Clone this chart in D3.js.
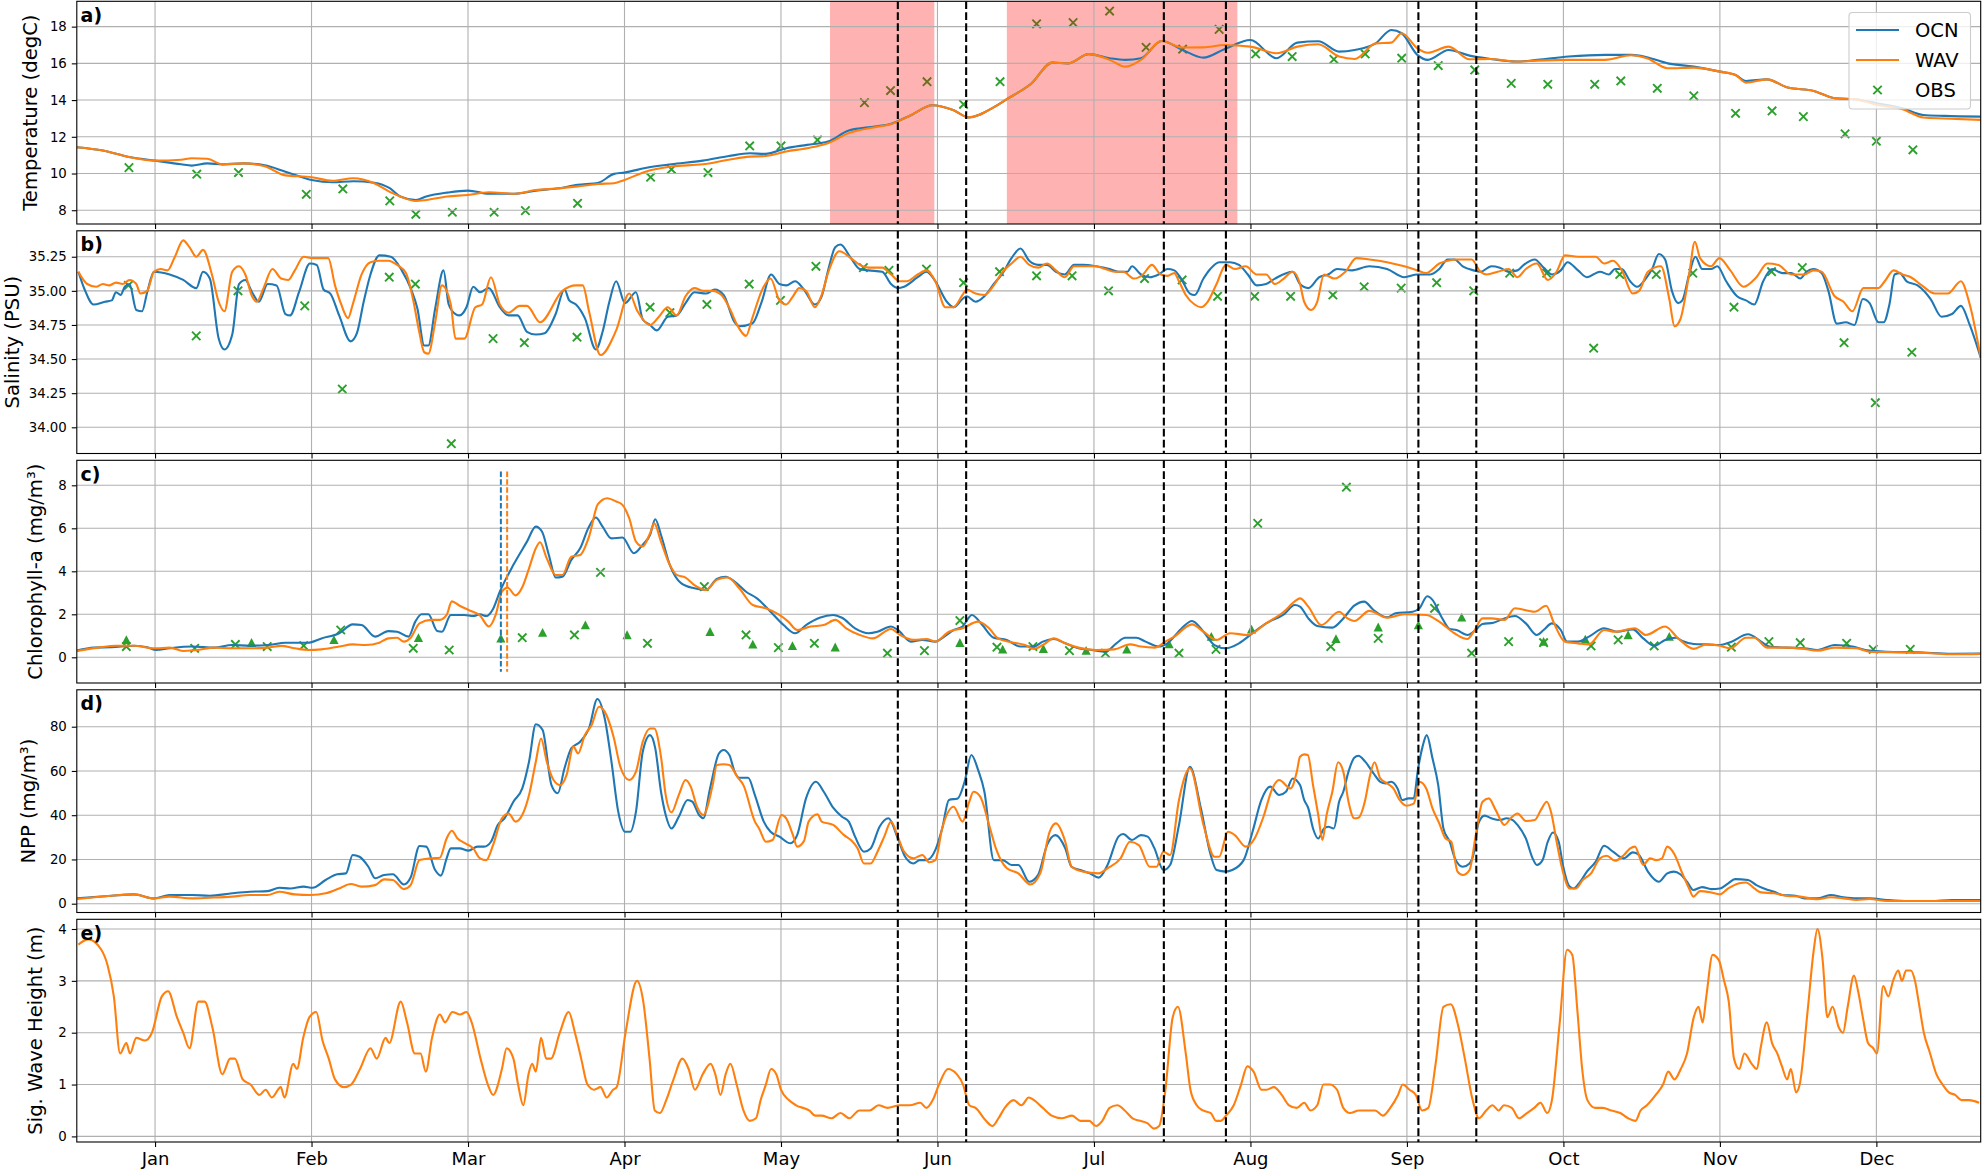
<!DOCTYPE html>
<html>
<head>
<meta charset="utf-8">
<script src="https://cdn.jsdelivr.net/npm/d3@7"></script>
<style>
  body { margin: 0; background: #fff; }
  text { font-family: "DejaVu Sans", sans-serif; }
</style>
</head>
<body>
<svg id="chart" width="1982" height="1171"></svg>
<script>
// ---- data (x = day of year, y = value) ----
var months = ["Jan","Feb","Mar","Apr","May","Jun","Jul","Aug","Sep","Oct","Nov","Dec"];
var monthDays = [15,45,75,105,135,165,195,225,255,285,315,345];
var eventDays = [157.4,170.5,208.4,220.3,257.2,268.3];
var heatSpans = [[144.4,164.4],[178.3,222.5]];
var bloomOCN = 81.3, bloomWAV = 82.5;

var tempOCN = [[0,11.43],[5,11.25],[10,10.9],[15,10.7],[20,10.5],[22,10.43],[25,10.55],[28,10.5],[32,10.55],[36,10.45],[40,10.1],[45,9.65],[49,9.52],[53,9.58],[57,9.5],[60,9.2],[62,8.75],[65,8.56],[67,8.75],[71,8.96],[75,9.07],[79,8.9],[84,8.9],[88,9.07],[92,9.18],[96,9.38],[100,9.5],[103,9.98],[105,10.05],[109,10.3],[114,10.5],[120,10.7],[125,10.95],[129,11.1],[132,11.07],[136,11.38],[140,11.56],[144,11.74],[148,12.34],[153,12.56],[156,12.7],[160,13.19],[164,13.72],[168,13.46],[171,13.06],[176,13.64],[178,14.0],[183,14.9],[187,16.04],[190,16.0],[194,16.5],[198,16.28],[201,16.19],[204,16.28],[208,17.22],[212,16.73],[216,16.31],[220,16.77],[225,17.27],[230,16.28],[234,17.13],[238,17.2],[242,16.64],[245,16.73],[249,17.09],[252,17.82],[254,17.64],[257,16.46],[259,16.19],[263,16.73],[267,16.42],[271,16.24],[276,16.1],[280,16.19],[286,16.37],[293,16.46],[298,16.46],[301,16.33],[305,16.0],[310,15.82],[315,15.55],[318,15.37],[320,15.04],[324,15.13],[328,14.68],[333,14.5],[337,14.1],[341,14.04],[345,13.83],[350,13.55],[354,13.19],[358,13.14],[365,13.1]];
var tempWAV = [[0,11.43],[5,11.25],[10,10.9],[15,10.7],[20,10.75],[22,10.83],[25,10.8],[28,10.5],[32,10.55],[36,10.4],[40,9.9],[45,9.8],[49,9.6],[53,9.74],[57,9.47],[60,9.0],[62,8.75],[65,8.5],[67,8.56],[71,8.75],[75,8.83],[79,8.98],[84,8.9],[88,9.1],[92,9.18],[96,9.3],[100,9.43],[103,9.47],[105,9.65],[109,10.1],[114,10.38],[120,10.5],[125,10.75],[129,10.92],[132,10.95],[136,11.2],[140,11.38],[144,11.65],[148,12.2],[153,12.52],[156,12.68],[160,13.19],[164,13.72],[168,13.46],[171,13.06],[176,13.64],[178,14.0],[183,14.9],[187,16.04],[190,16.0],[194,16.5],[198,16.19],[201,15.82],[204,16.19],[208,17.22],[212,16.86],[216,16.87],[220,17.0],[225,16.91],[230,16.55],[234,16.91],[238,17.04],[242,16.37],[245,16.24],[249,17.09],[252,17.13],[254,17.64],[257,16.82],[259,16.58],[263,16.91],[267,16.22],[271,16.24],[276,16.1],[280,16.15],[286,16.19],[293,16.19],[298,16.44],[301,16.28],[305,15.73],[310,15.77],[315,15.55],[318,15.37],[320,14.95],[324,15.13],[328,14.68],[333,14.5],[337,14.1],[341,14.04],[345,13.75],[350,13.5],[354,13.05],[358,13.0],[365,12.92]];
var tempOBS = [[10,10.32],[23,9.96],[31,10.05],[44,8.87],[51,9.16],[60,8.51],[65,7.78],[72,7.89],[80,7.89],[86,7.98],[96,8.38],[110,9.8],[114,10.23],[121,10.05],[129,11.5],[135,11.5],[142,11.83],[151,13.86],[156,14.52],[163,15.0],[170,13.77],[177,15.0],[184,18.15],[191,18.22],[198,18.85],[205,16.87],[212,16.77],[219,17.85],[226,16.51],[233,16.37],[241,16.22],[247,16.51],[254,16.28],[261,15.88],[268,15.64],[275,14.91],[282,14.86],[291,14.86],[296,15.04],[303,14.64],[310,14.23],[318,13.28],[325,13.41],[331,13.1],[339,12.16],[345,11.76],[352,11.29]];

var salOCN = [[0.3,35.14],[1.5,35.01],[3.2,34.90],[5.4,34.92],[6.7,34.93],[7.5,34.99],[8.4,34.97],[9.2,35.03],[10.1,35.05],[11.4,34.86],[12.5,34.85],[13.5,34.99],[14.8,35.14],[17.8,35.12],[20.4,35.08],[22.9,35.02],[24.2,35.14],[25.5,35.09],[27.2,34.65],[28.3,34.57],[29.8,34.68],[31.1,35.05],[32.3,35.08],[33.6,34.99],[34.9,34.92],[36.6,35.05],[38.3,35.04],[40.0,34.83],[40.9,34.82],[42.6,34.99],[44.7,35.20],[46.0,35.19],[47.3,35.01],[48.6,34.98],[50.3,34.82],[52.5,34.63],[53.7,34.69],[55.0,34.92],[56.3,35.12],[58.0,35.26],[60.2,35.25],[62.3,35.15],[64.0,35.02],[65.3,34.87],[66.6,34.60],[67.4,34.60],[68.7,34.87],[70.3,35.15],[71.3,34.90],[72.6,34.83],[73.4,34.82],[74.7,34.88],[76.0,35.03],[77.3,34.99],[79.0,35.02],[81.1,34.88],[82.8,34.82],[84.5,34.82],[86.3,34.70],[88.0,34.68],[89.7,34.69],[91.8,34.83],[93.5,35.01],[94.4,34.93],[95.7,34.90],[97.4,34.80],[99.5,34.57],[100.8,34.70],[102.1,34.92],[103.4,35.07],[105.1,34.91],[107.2,34.99],[108.5,34.79],
  [109.9,34.75],[111.2,34.71],[113.3,34.81],[115.0,34.82],[116.7,34.91],[118.4,34.99],[120.6,34.98],[122.3,35.01],[124.0,34.97],[126.1,34.77],[127.0,34.74],[129.5,34.76],[131.3,34.92],[133.1,35.12],[134.7,35.05],[136.0,35.04],[137.7,35.07],[139.4,35.01],[141.5,34.90],[142.8,34.96],[144.1,35.16],[145.4,35.32],[146.4,35.34],[148.4,35.24],[150.1,35.16],[151.8,35.15],[154.4,35.14],[156.1,35.05],[157.4,35.02],[158.6,35.03],[161.2,35.10],[162.9,35.14],[164.6,35.07],[166.8,34.92],[168.1,34.88],[169.8,34.94],[170.6,34.96],[172.3,34.92],[174.0,34.96],[175.8,35.05],[177.5,35.13],[179.2,35.24],[180.9,35.31],[182.6,35.22],[184.3,35.19],[186.0,35.19],[187.7,35.14],[189.4,35.12],[191.2,35.19],[192.9,35.19],[195.4,35.18],[198.0,35.16],[199.7,35.14],[201.4,35.14],[202.3,35.18],[204.0,35.12],[205.7,35.10],[207.4,35.12],[209.1,35.16],[210.4,35.15],[211.7,35.09],[213.4,34.98],[214.3,34.97],[216.0,35.09],[217.3,35.16],[219.0,35.21],[221.1,35.21],[222.8,35.19],[224.5,35.12],[226.2,35.04],[228.0,35.05],[229.7,35.09],[233.1,35.14],
  [234.5,35.05],[236.1,35.02],[238.2,35.10],[239.9,35.12],[241.6,35.16],[244.5,35.15],[247.8,35.18],[251.2,35.16],[254.5,35.10],[257.0,35.12],[259.5,35.12],[261.2,35.16],[262.8,35.23],[264.1,35.23],[265.7,35.18],[267.8,35.15],[269.1,35.14],[271.2,35.18],[272.8,35.17],[274.5,35.14],[276.2,35.15],[277.4,35.19],[279.5,35.23],[281.2,35.17],[282.8,35.12],[284.5,35.15],[285.8,35.21],[287.8,35.15],[289.5,35.10],[292.0,35.14],[293.7,35.12],[294.9,35.16],[296.2,35.16],[297.8,35.07],[299.1,35.03],[300.8,35.09],[302.0,35.16],[303.3,35.27],[304.5,35.23],[305.8,35.0],[307.0,34.91],[307.8,34.93],[309.1,35.12],[310.3,35.25],[311.6,35.16],[313.3,35.16],[314.5,35.18],[316.2,35.07],[318.3,34.96],[320.0,34.93],[321.6,34.90],[323.3,35.07],[325.0,35.16],[327.0,35.13],[328.7,35.13],[330.4,35.09],[331.6,35.14],[332.9,35.16],[334.5,35.13],[335.8,35.0],[337.4,34.76],[339.1,34.77],[340.8,34.75],[342.4,34.94],[343.7,34.91],[345.4,34.77],[346.4,34.77],[347.5,34.90],[348.5,35.12],[349.5,35.13],[350.8,35.07],[352.9,35.04],[355.4,34.94],[357.5,34.81],[359.5,34.83],[361.2,34.89],[362.9,34.75],[365,34.51]];
var salWAV = [[0.3,35.14],[2.0,35.05],[3.7,35.03],[5.0,35.05],[6.2,35.04],[7.5,35.06],[8.8,35.05],[10.1,35.08],[11.4,35.05],[12.2,34.98],[13.5,35.00],[14.8,35.14],[16.1,35.16],[17.4,35.15],[18.7,35.24],[20.4,35.37],[21.6,35.32],[22.9,35.25],[24.2,35.30],[25.9,35.12],[27.2,34.92],[28.3,34.85],[29.8,35.14],[31.1,35.18],[32.3,35.12],[33.6,34.96],[34.5,34.92],[35.8,35.02],[37.5,35.16],[39.2,35.09],[40.5,35.08],[41.8,35.15],[43.5,35.25],[45.2,35.24],[46.9,35.24],[48.2,35.24],[49.5,35.04],[50.7,34.90],[52.0,34.80],[52.9,34.90],[54.6,35.12],[56.3,35.21],[58.0,35.22],[59.7,35.22],[61.4,35.19],[63.1,35.13],[64.4,34.95],[65.7,34.69],[66.6,34.55],[67.4,34.54],[68.7,34.77],[70.0,35.04],[71.7,34.90],[72.6,34.65],[74.3,34.65],[76.4,34.88],[77.7,34.90],[79.4,35.10],[81.1,34.90],[82.8,34.84],[84.9,34.89],[86.3,34.89],[88.8,34.77],[93.1,35.00],[95.7,35.04],[97.0,35.04],[98.2,34.85],[100.4,34.53],[103.4,34.71],[105.9,34.98],[107.5,34.85],
  [109.9,34.75],[111.6,34.81],[113.3,34.88],[115.0,34.82],[116.7,34.96],[118.4,35.02],[120.1,35.0],[121.9,35.0],[123.6,34.97],[125.3,34.86],[126.6,34.75],[128.3,34.67],[129.5,34.80],[131.3,35.0],[133.0,35.09],[134.7,34.93],[136.0,34.90],[137.3,34.96],[138.5,35.02],[139.8,35.0],[141.5,34.88],[142.8,34.97],[144.1,35.14],[146.2,35.29],[148.4,35.24],[150.1,35.19],[151.8,35.17],[154.4,35.17],[156.1,35.12],[157.8,35.07],[159.1,35.07],[161.2,35.12],[162.9,35.15],[164.6,35.07],[166.5,34.88],[168.1,34.88],[169.8,34.97],[170.6,35.01],[172.3,34.98],[174.0,34.97],[175.8,35.04],[177.5,35.14],[179.2,35.20],[180.9,35.25],[182.6,35.19],[184.3,35.17],[186.0,35.20],[187.7,35.15],[189.4,35.10],[191.2,35.18],[193.7,35.18],[195.4,35.18],[197.2,35.16],[198.9,35.14],[200.6,35.14],[202.7,35.09],[204.4,35.12],[206.1,35.19],[207.8,35.12],[209.1,35.11],[210.4,35.13],[211.3,35.07],[212.6,34.97],[214.3,34.90],[215.5,34.88],[216.8,34.92],[218.5,35.05],[220.3,35.19],[222.0,35.16],[224.1,35.18],[226.2,35.12],[228.0,35.12],[229.7,35.05],[231.4,35.09],[233.1,35.14],
  [234.5,35.05],[235.3,34.92],[236.6,34.86],[237.8,34.92],[239.1,35.12],[241.1,35.09],[243.2,35.14],[245.3,35.24],[247.8,35.23],[251.2,35.21],[254.5,35.18],[257.0,35.15],[258.7,35.13],[261.2,35.20],[262.8,35.22],[264.5,35.23],[267.4,35.23],[269.1,35.14],[270.3,35.12],[272.4,35.14],[274.5,35.16],[276.2,35.10],[277.8,35.16],[279.9,35.20],[282.0,35.08],[283.7,35.14],[285.3,35.26],[287.8,35.25],[291.2,35.25],[292.8,35.20],[294.5,35.22],[296.2,35.15],[298.3,34.98],[299.5,35.0],[301.2,35.14],[303.7,35.18],[305.3,34.94],[306.3,34.74],[307.4,34.79],[309.1,35.12],[310.2,35.36],[311.2,35.24],[313.3,35.18],[314.9,35.24],[317.0,35.15],[319.5,35.03],[322.0,35.10],[324.1,35.20],[326.2,35.19],[328.7,35.12],[331.2,35.12],[332.9,35.15],[334.5,35.14],[337.0,34.96],[338.7,34.92],[340.4,34.85],[342.5,35.02],[343.7,35.02],[345.4,35.02],[346.6,35.07],[348.3,35.15],[350.0,35.12],[351.6,35.10],[353.7,35.04],[356.2,34.98],[358.7,34.98],[361.2,35.07],[362.9,34.90],[365,34.51]];
var salOBS = [[9.9,35.04],[22.9,34.67],[30.9,35.0],[43.7,34.89],[50.9,34.28],[59.9,35.10],[64.9,35.05],[71.8,33.88],[79.8,34.65],[85.8,34.62],[95.9,34.66],[109.9,34.88],[113.7,34.84],[120.8,34.90],[128.9,35.05],[134.9,34.93],[141.7,35.18],[150.8,35.17],[155.7,35.15],[162.9,35.16],[170,35.06],[176.9,35.14],[184,35.11],[190.8,35.11],[197.8,35.0],[204.7,35.09],[211.9,35.08],[218.7,34.96],[225.8,34.96],[232.7,34.96],[240.8,34.97],[246.8,35.03],[253.9,35.02],[260.7,35.06],[267.8,35.0],[274.7,35.13],[281.8,35.13],[290.8,34.58],[295.8,35.12],[302.8,35.12],[309.8,35.13],[317.7,34.88],[324.9,35.14],[330.8,35.17],[338.8,34.62],[344.8,34.18],[351.8,34.55]];

var chlOCN = [[0,0.31],[3.3,0.45],[6.7,0.47],[11.0,0.54],[13.5,0.47],[15.2,0.34],[17.8,0.42],[22.1,0.5],[26.4,0.45],[29.8,0.57],[33.2,0.54],[36.6,0.57],[40.0,0.68],[44.3,0.68],[46.9,0.88],[50.3,1.12],[52.9,1.53],[54.6,1.50],[57.2,0.96],[59.7,1.22],[61.4,1.19],[63.6,0.96],[64.9,1.66],[66.1,2.0],[67.4,2.0],[69.1,1.22],[70.0,1.19],[71.7,1.97],[74.3,1.97],[76.0,1.92],[77.3,2.0],[78.5,1.92],[79.8,2.25],[81.1,3.05],[83.7,4.3],[86.3,5.38],[88.0,6.08],[89.2,5.84],[90.5,4.76],[91.8,3.71],[93.1,3.75],[94.8,4.53],[96.5,5.07],[98.1,6.03],[99.5,6.5],[100.8,6.08],[102.5,5.53],[104.6,5.57],[106.8,4.84],[108.5,5.24],
  [109.9,5.69],[110.9,6.42],[112.0,5.69],[113.7,4.29],[115.9,3.44],[118.4,3.21],[120.6,3.13],[122.7,3.64],[124.4,3.75],[126.1,3.52],[128.3,3.05],[130.4,2.74],[133.0,2.12],[135.5,1.50],[137.7,1.12],[139.8,1.50],[142.4,1.84],[145.0,1.97],[146.7,1.84],[149.2,1.35],[151.8,1.12],[153.5,1.19],[156.1,1.43],[157.4,1.27],[159.9,0.73],[162.1,0.81],[164.6,0.73],[166.3,0.96],[168.1,1.27],[169.8,1.43],[171.6,1.97],[173.6,1.50],[175.8,0.91],[178.3,0.81],[180.9,0.50],[183.5,0.50],[185.2,0.73],[187.3,0.85],[189.5,0.65],[192.0,0.42],[194.6,0.34],[197.2,0.26],[199.3,0.65],[201.0,0.91],[203.1,0.91],[204.9,0.73],[207.4,0.50],[209.1,0.65],[211.7,1.32],[213.8,1.69],[216.0,1.19],[218.1,0.57],[220.3,0.42],[222.8,0.65],[225.4,1.12],[228.0,1.58],[231.4,2.0],[233.5,2.43],
  [234.5,2.36],[236.1,1.81],[237.8,1.46],[240.7,1.38],[242.8,1.81],[244.9,2.40],[246.8,2.59],[248.6,2.20],[251.2,1.86],[252.8,2.05],[256.1,2.12],[257.4,2.28],[258.9,2.84],[259.9,2.67],[261.6,1.89],[263.2,1.32],[264.5,1.27],[266.6,1.04],[267.8,1.19],[269.5,1.55],[271.6,1.61],[273.7,1.81],[275.7,1.92],[277.8,1.58],[279.9,1.04],[281.2,1.27],[282.8,1.58],[284.5,1.27],[285.7,0.73],[287.8,0.73],[289.9,0.96],[292.8,1.35],[295.3,1.19],[298.3,1.30],[300.3,0.88],[302.4,0.53],[304.5,0.81],[306.6,0.91],[307.8,0.76],[310.0,0.62],[312.4,0.60],[315.0,0.57],[317.0,0.70],[320.4,1.07],[322.9,0.73],[324.5,0.50],[327.9,0.45],[331.2,0.42],[333.7,0.34],[337.0,0.57],[340.4,0.50],[342.9,0.34],[347.0,0.26],[352.9,0.23],[359.5,0.16],[365,0.17]];
var chlWAV = [[0,0.29],[4.1,0.45],[7.5,0.54],[11.0,0.54],[13.5,0.45],[15.2,0.42],[17.8,0.45],[20.4,0.29],[22.9,0.34],[26.4,0.45],[29.8,0.42],[33.2,0.42],[36.6,0.45],[39.2,0.53],[41.8,0.42],[44.3,0.34],[46.9,0.37],[50.3,0.5],[52.9,0.60],[55.4,0.57],[58.0,0.68],[59.7,0.88],[61.4,0.91],[62.7,0.73],[64.0,0.91],[65.7,1.58],[67.9,1.74],[69.6,1.74],[70.9,1.97],[71.9,2.6],[73.4,2.4],[75.1,2.2],[77.3,1.94],[79.0,1.43],[80.3,1.97],[81.5,3.05],[82.6,3.24],[84.1,2.88],[85.4,3.26],[86.7,4.14],[88.0,5.07],[88.8,5.35],[90.1,4.6],[91.8,3.83],[93.1,3.83],[94.8,4.68],[96.5,4.76],[98.2,5.61],[99.9,7.12],[101.7,7.40],[103.4,7.25],[104.6,7.09],[105.9,6.47],[107.2,5.38],[108.5,5.16],
  [109.9,5.77],[110.7,6.23],[112.0,5.38],[113.7,4.29],[115.0,3.83],[116.7,3.71],[118.4,3.36],[120.6,3.13],[122.7,3.60],[124.8,3.71],[127.0,3.21],[129.6,2.43],[132.1,2.28],[134.7,1.97],[136.4,1.66],[138.1,1.27],[140.7,1.43],[143.2,1.50],[145.4,1.74],[147.5,1.35],[150.1,1.04],[152.6,0.88],[156.1,1.32],[157.8,1.04],[160.4,0.81],[162.9,0.85],[164.6,0.73],[167.2,1.19],[169.8,1.35],[172.8,1.66],[174.9,1.35],[176.6,0.88],[179.2,0.70],[181.8,0.57],[183.5,0.39],[185.2,0.57],[187.3,0.88],[189.5,0.65],[192.0,0.45],[195.4,0.34],[198.9,0.37],[201.9,0.60],[204.0,0.50],[206.6,0.45],[208.7,0.73],[210.4,0.96],[213.8,1.53],[216.0,1.19],[218.5,0.81],[221.1,1.12],[224.5,1.04],[228.0,1.58],[231.4,2.12],[233.5,2.60],
  [234.5,2.74],[236.1,2.36],[238.6,1.50],[242.0,2.12],[243.6,1.81],[244.9,1.69],[247.8,2.16],[251.2,1.84],[254.5,2.0],[258.7,1.97],[261.2,1.66],[264.1,1.12],[266.6,0.85],[267.8,1.19],[269.5,1.81],[271.2,1.81],[273.7,1.74],[275.7,2.28],[279.5,2.12],[281.7,2.40],[283.2,1.58],[285.3,0.73],[287.8,0.65],[289.9,0.60],[292.8,1.27],[294.9,1.19],[298.7,1.35],[300.8,1.04],[304.5,1.43],[307.0,0.88],[310.0,0.39],[312.4,0.60],[315.0,0.54],[317.0,0.42],[320.0,0.91],[321.6,0.91],[324.1,0.45],[327.9,0.45],[331.2,0.39],[333.7,0.31],[337.0,0.45],[341.2,0.42],[343.7,0.26],[349.5,0.23],[355.4,0.19],[359.5,0.14],[365,0.16]];
var chlOBS = [[9.5,0.5],[22.6,0.42],[30.4,0.6],[36.5,0.5],[43.5,0.54],[50.6,1.27],[64.5,0.42],[71.4,0.34],[85.4,0.91],[95.4,1.04],[100.4,3.95],[109.4,0.65],[120.3,3.29],[128.3,1.04],[134.5,0.45],[141.4,0.65],[155.4,0.19],[162.5,0.31],[169.3,1.71],[176.4,0.47],[183.3,0.5],[190.3,0.31],[197.2,0.19],[211.3,0.19],[218.4,0.37],[226.4,6.23],[240.4,0.5],[243.4,7.91],[249.5,0.88],[260.3,2.28],[267.4,0.19],[274.5,0.73],[281.2,0.68],[290.3,0.53],[295.5,0.81],[302.4,0.53],[317.2,0.47],[324.4,0.73],[330.4,0.68],[339.3,0.65],[344.4,0.37],[351.5,0.37]];
var chlOBS2 = [[9.5,0.81],[33.5,0.68],[49.3,0.81],[65.5,0.91],[81.3,0.88],[89.3,1.15],[97.5,1.5],[105.5,1.04],[121.4,1.19],[129.6,0.6],[137.2,0.53],[145.4,0.47],[169.3,0.68],[177.5,0.37],[185.3,0.4],[193.5,0.31],[201.3,0.37],[209.4,0.62],[217.5,0.96],[225.2,1.3],[241.4,0.86],[249.5,1.4],[257.2,1.5],[265.5,1.86],[281.2,0.73],[289.2,0.84],[297.4,1.04],[305.3,0.96]];

var nppOCN = [[0,2.4],[6.7,3.6],[11.0,4.2],[14.8,2.4],[17.8,3.9],[22.1,3.9],[25.5,3.6],[29.8,4.7],[33.2,5.4],[36.6,5.7],[38.8,7.2],[40.9,6.9],[43.5,7.7],[45.2,7.2],[47.7,10.7],[49.9,13.3],[51.6,13.7],[52.9,22.0],[54.2,21.2],[55.9,16.7],[57.2,11.5],[58.9,13.0],[60.6,13.3],[62.7,8.7],[64.0,11.8],[65.7,26.1],[67.0,25.8],[68.7,15.2],[69.8,12.7],[70.9,20.5],[71.7,25.0],[73.4,25.0],[75.1,24.0],[76.8,25.8],[78.1,25.8],[79.4,28.0],[80.7,35.6],[82.0,38.6],[83.7,46.1],[85.4,52.1],[86.7,64.2],[88.0,81.1],[89.3,78.5],[91.0,53.6],[92.2,49.9],[93.5,61.2],[94.8,70.2],[96.5,73.2],[98.2,79.2],[99.8,92.5],[101.2,83.8],[102.5,64.2],[103.8,41.6],[105.1,32.5],[106.1,32.5],[107.2,41.6],[108.5,68.7],
  [109.9,76.2],[110.9,70.2],[112.0,50.6],[112.9,40.1],[114.0,34.0],[115.4,39.3],[117.1,46.9],[118.0,46.1],[119.3,40.1],[120.1,38.6],[121.4,52.1],[123.1,67.9],[124.0,69.5],[125.1,67.2],[126.1,59.7],[127.0,56.9],[128.7,56.9],[130.0,49.1],[131.7,37.1],[133.0,32.5],[134.7,30.3],[136.8,27.3],[138.1,31.0],[139.8,47.6],[141.7,55.1],[143.2,50.6],[145.0,43.4],[146.7,39.3],[148.0,37.1],[149.2,30.3],[150.9,23.5],[152.2,25.0],[153.9,34.8],[155.6,38.6],[157.4,29.5],[158.8,21.2],[160.4,18.2],[161.6,19.7],[162.9,19.7],[164.6,24.3],[165.9,34.0],[167.2,46.9],[168.9,47.6],[170.2,55.1],[171.5,67.2],[172.8,60.4],[174.0,50.6],[175.8,19.7],[177.5,19.7],[179.2,17.5],[180.5,17.5],[182.6,9.9],[184.3,13.0],[186.0,26.5],[187.6,31.0],[189.5,25.0],[190.7,16.7],[192.4,15.2],[194.2,13.7],[195.9,11.8],[197.6,17.5],[199.7,30.3],[200.6,31.5],[202.3,28.8],[204.0,31.0],[205.3,30.3],[206.6,25.0],[208.3,15.2],[209.6,17.5],[211.3,35.6],[213.4,61.9],[215.5,43.1],[217.3,22.7],[218.5,15.2],[220.3,14.5],[221.5,15.2],[223.7,19.7],[225.4,32.5],[227.1,46.9],[228.8,52.9],[230.5,49.1],[231.8,50.6],[233.1,56.6],
  [234.5,53.6],[235.3,46.9],[236.1,43.1],[237.0,34.0],[238.0,29.5],[239.1,34.0],[239.9,34.8],[241.0,34.0],[242.0,46.1],[242.8,50.6],[243.8,59.7],[244.9,66.0],[245.7,66.9],[247.0,64.2],[248.6,58.9],[249.9,55.1],[250.9,54.4],[252.0,55.1],[253.2,52.1],[254.1,46.9],[255.3,47.6],[256.3,47.6],[257.1,60.4],[258.0,71.0],[258.8,76.2],[259.9,65.7],[261.0,53.6],[262.0,34.0],[263.2,28.0],[264.2,20.5],[265.7,16.7],[267.0,18.2],[267.8,22.7],[268.7,36.3],[269.9,39.8],[271.2,38.6],[272.8,37.8],[274.1,38.6],[275.3,37.8],[276.2,35.6],[277.8,29.5],[279.1,20.5],[279.9,17.5],[281.0,19.7],[282.0,28.0],[283.0,32.2],[284.1,28.0],[284.9,17.5],[286.2,7.7],[287.0,6.9],[288.2,9.9],[289.5,14.5],[291.2,19.0],[292.8,26.2],[294.5,23.5],[296.6,20.5],[298.3,23.2],[299.5,22.0],[301.2,14.5],[303.3,9.9],[304.9,13.7],[306.2,14.5],[307.4,13.3],[308.7,9.9],[309.9,6.2],[311.6,7.5],[313.3,6.6],[315.0,6.9],[316.6,9.2],[317.9,11.1],[320.4,10.7],[322.0,8.4],[323.7,6.6],[325.4,5.4],[327.0,3.9],[329.5,3.6],[331.2,2.4],[333.7,2.4],[336.2,3.9],[338.7,2.9],[341.2,2.4],[343.7,2.4],[347.0,1.7],[351.2,1.2],[355.4,1.2],[359.5,1.7],[365,1.7]];
var nppWAV = [[0,2.1],[6.7,3.6],[11.0,4.2],[14.8,2.4],[17.8,3.2],[22.1,2.4],[25.5,2.7],[29.8,3.2],[33.2,3.9],[36.6,3.9],[38.8,5.4],[41.8,4.2],[44.9,3.9],[47.7,4.7],[50.3,6.9],[52.5,8.9],[54.6,7.7],[57.2,8.4],[58.9,11.0],[60.6,10.7],[62.7,6.6],[64.0,8.4],[65.7,19.7],[67.9,20.5],[69.6,20.8],[70.9,29.5],[71.9,33.0],[73.0,29.5],[74.3,27.5],[76.0,25.0],[77.3,20.5],[78.5,19.7],[79.8,26.5],[81.5,38.6],[82.8,40.8],[84.1,37.1],[85.4,40.1],[86.7,49.1],[88.0,64.2],[89.0,74.7],[90.1,64.2],[91.4,55.9],[92.7,53.6],[93.9,58.2],[95.2,71.0],[96.1,67.9],[97.4,76.2],[98.7,80.8],[100.1,89.0],[101.2,86.8],[102.9,75.5],[104.2,61.9],[105.9,55.9],[107.2,59.7],[108.5,73.2],
  [109.9,79.2],[110.7,79.2],[112.0,66.4],[112.9,49.1],[114.0,41.3],[115.4,49.1],[116.7,55.9],[117.7,52.9],[118.9,43.8],[120.1,40.1],[121.9,53.6],[122.7,62.7],[124.0,63.0],[125.1,62.7],[126.6,57.4],[127.8,53.6],[130.0,37.1],[130.8,34.0],[132.1,28.0],[133.4,28.8],[135.1,40.1],[136.0,38.6],[137.3,31.0],[138.1,25.8],[139.4,28.3],[140.3,37.1],[142.0,40.4],[142.8,37.1],[145.0,35.6],[147.1,31.0],[148.4,28.8],[149.7,25.0],[150.9,18.2],[152.2,18.2],[153.5,23.5],[154.8,30.3],[156.1,37.1],[157.4,30.3],[158.6,23.5],[160.4,20.5],[162.1,22.0],[163.4,18.7],[164.6,19.7],[165.9,34.0],[168.1,43.8],[169.8,37.1],[171.1,46.1],[171.9,50.6],[173.2,48.4],[174.9,35.6],[176.2,25.0],[178.3,16.0],[180.5,13.7],[182.8,8.7],[184.7,13.7],[186.5,32.5],[187.7,36.3],[189.5,28.0],[190.7,16.7],[192.9,14.5],[195.9,13.7],[197.6,16.0],[200.1,20.5],[201.9,28.0],[203.6,26.5],[205.7,16.7],[207.0,16.7],[208.3,23.5],[209.6,22.0],[211.3,46.9],[213.4,61.2],[216.0,35.6],[218.1,21.2],[219.0,21.2],[220.7,32.5],[222.0,31.0],[224.1,25.8],[225.8,29.5],[227.5,39.3],[229.2,52.1],[230.5,55.9],[232.7,52.1],[233.9,59.7],
  [234.5,66.4],[235.3,67.5],[236.0,67.2],[237.0,53.6],[238.0,40.1],[238.8,28.8],[239.6,40.1],[240.7,50.6],[241.8,63.9],[242.8,59.7],[243.8,46.1],[244.9,38.6],[245.7,38.9],[247.0,46.9],[247.8,56.6],[248.8,63.9],[249.9,56.6],[251.2,54.4],[252.4,52.1],[253.6,46.9],[254.9,44.3],[256.3,45.2],[257.4,55.1],[258.7,52.1],[259.9,43.1],[261.2,36.3],[262.4,29.5],[263.5,28.0],[264.7,14.5],[265.7,13.0],[267.0,15.2],[268.2,31.0],[269.5,46.1],[270.7,47.6],[272.0,42.4],[273.7,35.6],[274.9,38.6],[276.2,40.8],[277.8,37.4],[279.5,37.8],[280.7,42.4],[281.8,46.1],[282.7,40.8],[283.7,28.0],[284.9,14.5],[286.2,6.9],[287.4,6.9],[288.7,10.7],[290.3,13.7],[292.0,20.5],[293.3,21.7],[294.9,19.4],[296.6,22.0],[297.8,25.0],[298.7,25.8],[300.3,17.5],[301.6,20.5],[302.8,19.7],[303.9,20.5],[304.9,25.8],[306.2,22.7],[307.8,13.7],[309.1,6.9],[309.9,3.2],[311.2,5.7],[313.3,5.1],[315.0,4.2],[316.6,6.9],[318.7,9.2],[320.0,9.6],[321.6,6.9],[322.9,5.1],[325.4,4.7],[327.9,3.5],[330.4,3.2],[333.7,2.0],[336.2,2.9],[338.7,2.4],[341.2,1.7],[343.7,2.1],[347.0,1.2],[351.2,1.2],[355.4,1.2],[359.5,1.2],[365,1.2]];

var waveWAV = [[0.3,3.7],[2.2,3.8],[4.7,3.6],[5.9,3.3],[7.1,2.7],[8.3,1.6],[9.5,1.8],[10.2,1.6],[11.4,1.9],[13.1,1.85],[14.4,2.0],[16.3,2.7],[17.5,2.8],[19.2,2.3],[20.4,2.0],[21.6,1.7],[23.3,2.6],[24.5,2.6],[26.0,2.1],[27.9,1.2],[29.4,1.5],[30.3,1.5],[31.8,1.1],[33.3,1.0],[35.0,0.8],[36.2,0.9],[37.4,0.75],[39.1,0.95],[39.8,0.75],[41.5,1.4],[42.2,1.3],[43.4,1.9],[44.6,2.3],[45.9,2.4],[47.1,1.85],[48.3,1.5],[49.5,1.1],[51.2,0.95],[52.6,1.0],[54.3,1.3],[56.3,1.7],[57.5,1.5],[59.2,1.9],[59.9,1.8],[62.1,2.6],[63.3,2.2],[64.8,1.6],[65.9,1.6],[66.9,1.25],[68.1,1.9],[69.6,2.35],[70.6,2.2],[72.0,2.4],[73.5,2.35],[74.7,2.4],[75.7,2.2],[77.4,1.5],[78.8,1.0],[79.8,0.8],[81.5,1.3],[82.4,1.7],[83.7,1.5],[84.6,1.0],[85.6,0.6],[86.6,1.2],[87.3,1.4],[88.0,1.25],[89.0,1.9],[90.0,1.5],[90.9,1.5],[92.6,2.0],[94.3,2.4],[95.5,2.0],[96.7,1.5],[97.9,1.0],[99.2,0.9],[100.4,0.95],[101.6,0.75],[102.8,0.9],[103.5,0.95],[105.2,2.0],[107.4,3.0],[108.6,2.6],[109.8,1.5],[110.8,0.5],[111.8,0.45],[113.0,0.7],[114.4,1.1],[116.1,1.5],[117.3,1.3],[118.5,0.9],[120.0,1.2],[121.5,1.4],[122.4,1.2],[123.4,0.8],[124.4,1.2],[125.3,1.4],[126.5,1.0],[127.8,0.5],[129.0,0.3],[130.2,0.35],[131.1,0.7],[132.1,1.0],[133.1,1.3],[134.1,1.2],[135.0,0.9],[136.5,0.7],[137.9,0.6],[140.4,0.5],[141.6,0.4],[142.8,0.4],[144.7,0.35],[146.4,0.45],[148.1,0.35],[150.0,0.5],[152.0,0.5],[153.7,0.6],[155.4,0.55],[157.8,0.6],[159.7,0.6],[161.7,0.65],[162.9,0.55],[164.1,0.7],[165.3,1.0],[167.0,1.3],[168.7,1.2],[169.9,1.0],[171.1,0.6],[172.3,0.55],[174.3,0.3],[175.5,0.2],[176.7,0.35],[177.9,0.55],[179.6,0.7],[181.1,0.6],[182.5,0.75],[183.5,0.7],[185.2,0.55],[186.9,0.4],[188.8,0.35],[190.8,0.4],[192.4,0.3],[194.1,0.3],[195.4,0.2],[196.6,0.3],[198.0,0.55],[199.5,0.6],[200.9,0.5],[202.4,0.35],[203.8,0.3],[205.3,0.25],[206.5,0.15],[207.5,0.2],[208.7,0.9],[210.1,2.3],[211.1,2.5],[212.6,1.6],[213.5,0.9],[214.7,0.6],[215.9,0.5],[217.4,0.45],[218.4,0.3],[219.3,0.3],[220.3,0.4],[221.8,0.6],[223.2,1.0],[224.4,1.35],[225.6,1.25],[227.1,0.9],[228.1,0.9],[229.5,0.95],[231.0,0.8],[232.4,0.6],[233.9,0.55],[235.3,0.65],[236.5,0.5],[237.8,0.6],[239.0,1.0],[240.2,1.0],[241.6,0.9],[242.8,0.55],[244.1,0.45],[245.8,0.5],[247.4,0.5],[248.9,0.5],[250.4,0.4],[251.8,0.55],[253.3,0.8],[254.2,1.0],[255.5,0.9],[256.7,0.8],[257.9,0.5],[259.1,0.55],[260.5,1.4],[262.0,2.5],[263.4,2.55],[264.9,2.1],[266.1,1.5],[267.6,0.7],[268.8,0.35],[270.2,0.5],[271.4,0.6],[272.6,0.5],[273.6,0.6],[275.1,0.55],[276.5,0.35],[278.0,0.45],[279.4,0.55],[280.6,0.65],[281.9,0.45],[282.8,0.7],[284.3,2.2],[285.7,3.6],[286.7,3.5],[287.7,2.4],[288.6,1.3],[289.6,0.7],[291.1,0.55],[292.5,0.55],[294.2,0.5],[295.9,0.45],[297.4,0.35],[298.8,0.3],[299.8,0.5],[301.0,0.6],[302.7,0.8],[304.1,1.0],[305.1,1.25],[306.3,1.1],[307.5,1.3],[308.7,1.6],[310.0,2.3],[310.9,2.5],[311.7,2.2],[312.4,2.7],[313.6,3.5],[314.8,3.4],[315.8,3.0],[316.7,2.6],[317.7,1.5],[318.7,1.3],[319.7,1.6],[321.1,1.4],[322.1,1.3],[322.8,1.7],[324.0,2.2],[325.0,1.8],[326.0,1.6],[326.9,1.35],[327.9,1.1],[328.6,1.3],[329.6,0.85],[330.3,1.0],[331.8,2.4],[333.0,3.6],[333.7,4.0],[334.7,3.4],[335.6,2.3],[336.6,2.5],[337.8,2.1],[338.6,2.0],[339.5,2.5],[340.7,3.1],[341.5,2.8],[342.4,2.3],[343.4,1.8],[344.4,1.7],[345.1,1.6],[346.3,2.9],[347.3,2.7],[348.2,3.0],[349.2,3.2],[349.9,3.0],[350.7,3.2],[351.6,3.2],[352.4,3.0],[353.1,2.6],[354.1,2.0],[355.3,1.6],[356.5,1.2],[357.7,1.0],[358.9,0.85],[360.1,0.8],[361.3,0.7],[362.8,0.7],[364.7,0.65]];

// ---- layout ----
var blue = "#1f77b4", orange = "#ff7f0e", green = "#2ca02c", gridCol = "#b0b0b0";
var plotLeft = 76.8, plotRight = 1980.7;
var svg = d3.select("#chart");
var x = d3.scaleLinear().domain([0, 365]).range([plotLeft, plotRight]);

function draw_panel(p){
  var y = d3.scaleLinear().domain(p.domain).range([p.bottom, p.top]);
  var g = svg.append("g");
  var clipId = "clip_" + p.tag;
  g.append("clipPath").attr("id", clipId).append("rect")
    .attr("x", plotLeft).attr("y", p.top)
    .attr("width", plotRight - plotLeft).attr("height", p.bottom - p.top);
  var inner = g.append("g").attr("clip-path", "url(#" + clipId + ")");

  (p.obs || []).forEach(function(o){
    var tri = o.shape == "tri";
    inner.selectAll(null).data(o.data).enter().append("path")
      .attr("transform", function(d){ return "translate(" + x(d[0]) + "," + y(d[1]) + ")"; })
      .attr("d", tri ? "M0,-4.6L4.6,4.2L-4.6,4.2Z" : "M-4.2,-4.2L4.2,4.2M-4.2,4.2L4.2,-4.2")
      .attr("fill", tri ? green : "none")
      .attr("stroke", tri ? "none" : green)
      .attr("stroke-width", 1.9);
  });

  (p.spans || []).forEach(function(s){
    inner.append("rect")
      .attr("x", x(s[0])).attr("y", p.top)
      .attr("width", x(s[1]) - x(s[0])).attr("height", p.bottom - p.top)
      .attr("fill", "red").attr("fill-opacity", 0.3);
  });

  inner.selectAll(null).data(monthDays).enter().append("line")
    .attr("x1", function(d){ return x(d); }).attr("x2", function(d){ return x(d); })
    .attr("y1", p.top).attr("y2", p.bottom)
    .attr("stroke", gridCol).attr("stroke-width", 1.1);
  inner.selectAll(null).data(p.ticks).enter().append("line")
    .attr("x1", plotLeft).attr("x2", plotRight)
    .attr("y1", function(d){ return y(d); }).attr("y2", function(d){ return y(d); })
    .attr("stroke", gridCol).attr("stroke-width", 1.1);

  var line = d3.line().x(function(d){ return x(d[0]); }).y(function(d){ return y(d[1]); })
    .curve(d3.curveMonotoneX);
  p.lines.forEach(function(l){
    inner.append("path").datum(l.data).attr("d", line)
      .attr("fill", "none").attr("stroke", l.color).attr("stroke-width", 2.1)
      .attr("stroke-linejoin", "round");
  });

  (p.blooms || []).forEach(function(b){
    var h = p.bottom - p.top;
    inner.append("line")
      .attr("x1", x(b.day)).attr("x2", x(b.day))
      .attr("y1", p.top + 0.05 * h).attr("y2", p.bottom - 0.05 * h)
      .attr("stroke", b.color).attr("stroke-width", 2).attr("stroke-dasharray", "5.5,2.4");
  });

  inner.selectAll(null).data(eventDays).enter().append("line")
    .attr("x1", function(d){ return x(d); }).attr("x2", function(d){ return x(d); })
    .attr("y1", p.top).attr("y2", p.bottom)
    .attr("stroke", "#000").attr("stroke-width", 2.1).attr("stroke-dasharray", "7.7,3.3");

  g.append("rect")
    .attr("x", plotLeft).attr("y", p.top)
    .attr("width", plotRight - plotLeft).attr("height", p.bottom - p.top)
    .attr("fill", "none").attr("stroke", "#000").attr("stroke-width", 1.1);

  var ya = g.append("g").attr("transform", "translate(" + plotLeft + ",0)")
    .call(d3.axisLeft(y).tickValues(p.ticks).tickFormat(d3.format(p.fmt)).tickSize(5).tickPadding(5));
  ya.select(".domain").remove();
  ya.attr("font-family", null).attr("font-size", null);
  ya.selectAll("line").attr("stroke-width", 1.1);
  ya.selectAll("text").attr("font-size", 13.3).attr("fill", "#000");

  var xa = g.append("g").attr("transform", "translate(0," + p.bottom + ")")
    .call(d3.axisBottom(x).tickValues(monthDays)
      .tickFormat(function(d, i){ return p.xlabels ? months[i] : ""; })
      .tickSize(5).tickPadding(5));
  xa.select(".domain").remove();
  xa.attr("font-family", null).attr("font-size", null);
  xa.selectAll("line").attr("stroke-width", 1.1);
  xa.selectAll("text").attr("font-size", 18).attr("fill", "#000");

  g.append("text").attr("x", plotLeft + 3.8).attr("y", p.top + 20.5)
    .attr("font-size", 19).attr("font-weight", "bold").text(p.tag + ")");

  g.append("text")
    .attr("transform", "translate(" + p.labelX + "," + ((p.top + p.bottom) / 2) + ") rotate(-90)")
    .attr("text-anchor", "middle").attr("font-size", 19.6).text(p.ylabel);

  return {g: g, y: y};
}

draw_panel({tag: "a", top: 1.3, bottom: 224, domain: [7.25, 19.38],
  ticks: [8,10,12,14,16,18], fmt: "d", ylabel: "Temperature (degC)", labelX: 36.5,
  obs: [{data: tempOBS, shape: "x"}], spans: heatSpans,
  lines: [{data: tempOCN, color: blue}, {data: tempWAV, color: orange}]});
draw_panel({tag: "b", top: 230.8, bottom: 453.5, domain: [33.808, 35.44],
  ticks: [34.0,34.25,34.5,34.75,35.0,35.25], fmt: ".2f", ylabel: "Salinity (PSU)", labelX: 19,
  obs: [{data: salOBS, shape: "x"}],
  lines: [{data: salOCN, color: blue}, {data: salWAV, color: orange}]});
draw_panel({tag: "c", top: 460.3, bottom: 683, domain: [-1.195, 9.163],
  ticks: [0,2,4,6,8], fmt: "d", ylabel: "Chlorophyll-a (mg/m³)", labelX: 41.5,
  obs: [{data: chlOBS, shape: "x"}, {data: chlOBS2, shape: "tri"}],
  blooms: [{day: bloomOCN, color: blue}, {day: bloomWAV, color: orange}],
  lines: [{data: chlOCN, color: blue}, {data: chlWAV, color: orange}]});
draw_panel({tag: "d", top: 689.8, bottom: 912.5, domain: [-3.98, 96.68],
  ticks: [0,20,40,60,80], fmt: "d", ylabel: "NPP (mg/m³)", labelX: 34.5,
  lines: [{data: nppOCN, color: blue}, {data: nppWAV, color: orange}]});
draw_panel({tag: "e", top: 919.3, bottom: 1142, domain: [-0.108, 4.187],
  ticks: [0,1,2,3,4], fmt: "d", ylabel: "Sig. Wave Height (m)", labelX: 41.5, xlabels: true,
  lines: [{data: waveWAV, color: orange}]});

// legend (panel a)
var lg = svg.append("g");
lg.append("rect").attr("x", 1849).attr("y", 12.5).attr("width", 121.5).attr("height", 96.5)
  .attr("rx", 3.5).attr("fill", "#fff").attr("fill-opacity", 0.8)
  .attr("stroke", "#cccccc").attr("stroke-width", 1.1);
var legItems = [{name: "OCN", color: blue, kind: "line"}, {name: "WAV", color: orange, kind: "line"}, {name: "OBS", color: green, kind: "x"}];
legItems.forEach(function(it, i){
  var cy = 30 + i * 30;
  if (it.kind == "line") {
    lg.append("line").attr("x1", 1856).attr("x2", 1899).attr("y1", cy).attr("y2", cy)
      .attr("stroke", it.color).attr("stroke-width", 2.1);
  } else {
    lg.append("path").attr("transform", "translate(1877.5," + cy + ")")
      .attr("d", "M-4.2,-4.2L4.2,4.2M-4.2,4.2L4.2,-4.2")
      .attr("stroke", it.color).attr("stroke-width", 1.9).attr("fill", "none");
  }
  lg.append("text").attr("x", 1915).attr("y", cy).attr("dy", "0.36em")
    .attr("font-size", 19.5).text(it.name);
});
</script>
</body>
</html>
